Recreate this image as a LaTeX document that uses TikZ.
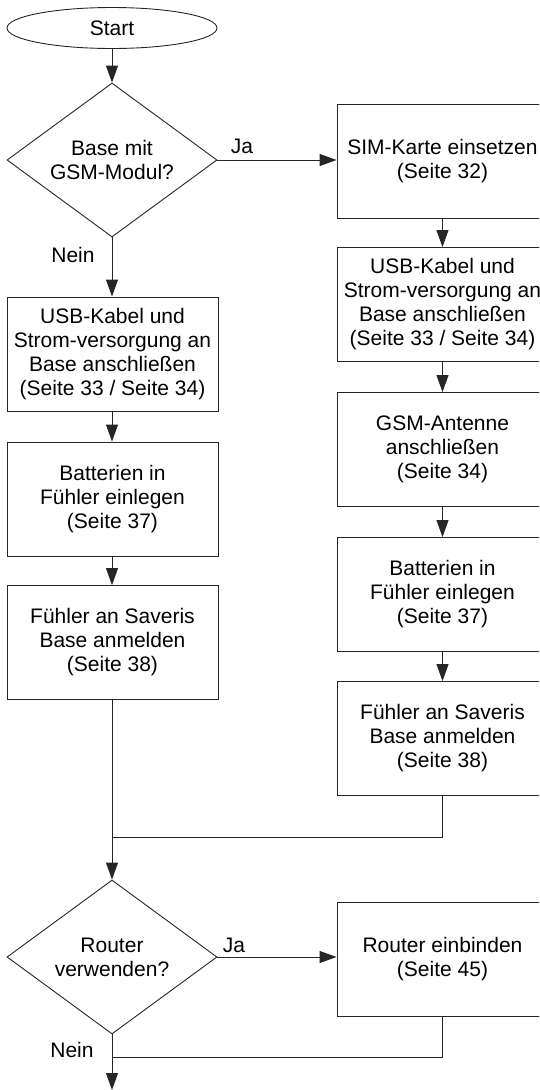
\documentclass[tikz,border=0pt]{standalone}
\usepackage{fontspec}
\setmainfont{Liberation Sans}
\usetikzlibrary{shapes.geometric,arrows.meta}
\begin{document}
\begin{tikzpicture}[x=1pt,y=-1pt,
  every node/.style={font=\fontsize{21}{24}\selectfont},
  stepbox/.style={draw=black!85,line width=0.9pt,rectangle,minimum width=211pt,minimum height=114pt,inner sep=0pt,align=center},
  decbox/.style={draw=black!85,line width=0.9pt,diamond,aspect=1.36,minimum width=210pt,minimum height=154pt,inner sep=0pt,align=center},
  termbox/.style={draw=black!85,line width=0.9pt,ellipse,minimum width=210pt,minimum height=41pt,inner sep=0pt},
  flow/.style={draw=black!85,line width=0.9pt},
  arr/.style={flow,-{Triangle[length=17pt,width=12pt]}},
  lbl/.style={inner sep=0pt}]
\useasboundingbox (0,0) rectangle (539,1090);
\clip (0,0) rectangle (539,1090);
% nodes
\node[termbox] (start) at (112,28) {Start};
\node[decbox] (d1) at (112,160) {Base mit\\GSM-Modul?};
\node[stepbox] (sim) at (442.5,161.5) {SIM-Karte einsetzen\\(Seite 32)};
\node[stepbox] (usbR) at (442.5,304.5) {USB-Kabel und\\Strom-versorgung an\\Base anschließen\\(Seite 33 / Seite 34)};
\node[stepbox] (gsm) at (442.5,449.5) {GSM-Antenne\\anschließen\\(Seite 34)};
\node[stepbox] (batR) at (442.5,594.5) {Batterien in\\Fühler einlegen\\(Seite 37)};
\node[stepbox] (fuehR) at (442.5,738.5) {Fühler an Saveris\\Base anmelden\\(Seite 38)};
\node[stepbox] (usbL) at (112.5,354) {USB-Kabel und\\Strom-versorgung an\\Base anschließen\\(Seite 33 / Seite 34)};
\node[stepbox] (batL) at (112.5,499) {Batterien in\\Fühler einlegen\\(Seite 37)};
\node[stepbox] (fuehL) at (112.5,642.5) {Fühler an Saveris\\Base anmelden\\(Seite 38)};
\node[decbox] (d2) at (112,957) {Router\\verwenden?};
\node[stepbox] (router) at (442.5,959) {Router einbinden\\(Seite 45)};
% labels
\node[lbl] (ja1) at (242,146) {Ja};
\node[lbl] (nein1) at (73,255) {Nein};
\node[lbl] (ja2) at (234,945) {Ja};
\node[lbl] (nein2) at (72,1050) {Nein};
% junctions
\coordinate (j1) at (112,837);
\coordinate (j2) at (112,1057);
\coordinate (endpt) at (112,1090);
% connectors
\draw[arr] (start.south) -- (d1.north);
\draw[arr] (d1.east) -- (sim.west |- d1.east);
\draw[arr] (d1.south) -- (usbL.north -| d1.south);
\draw[arr] (usbL.south -| d1.south) -- (batL.north -| d1.south);
\draw[arr] (batL.south -| d1.south) -- (fuehL.north -| d1.south);
\draw[arr] (sim.south) -- (usbR.north);
\draw[arr] (usbR.south) -- (gsm.north);
\draw[arr] (gsm.south) -- (batR.north);
\draw[arr] (batR.south) -- (fuehR.north);
\draw[arr] (fuehL.south -| d1.south) -- (d2.north);
\draw[flow] (fuehR.south) |- (j1);
\draw[arr] (d2.east) -- (router.west |- d2.east);
\draw[arr] (d2.south) -- (endpt);
\draw[flow] (router.south) |- (j2);
\end{tikzpicture}
\end{document}
